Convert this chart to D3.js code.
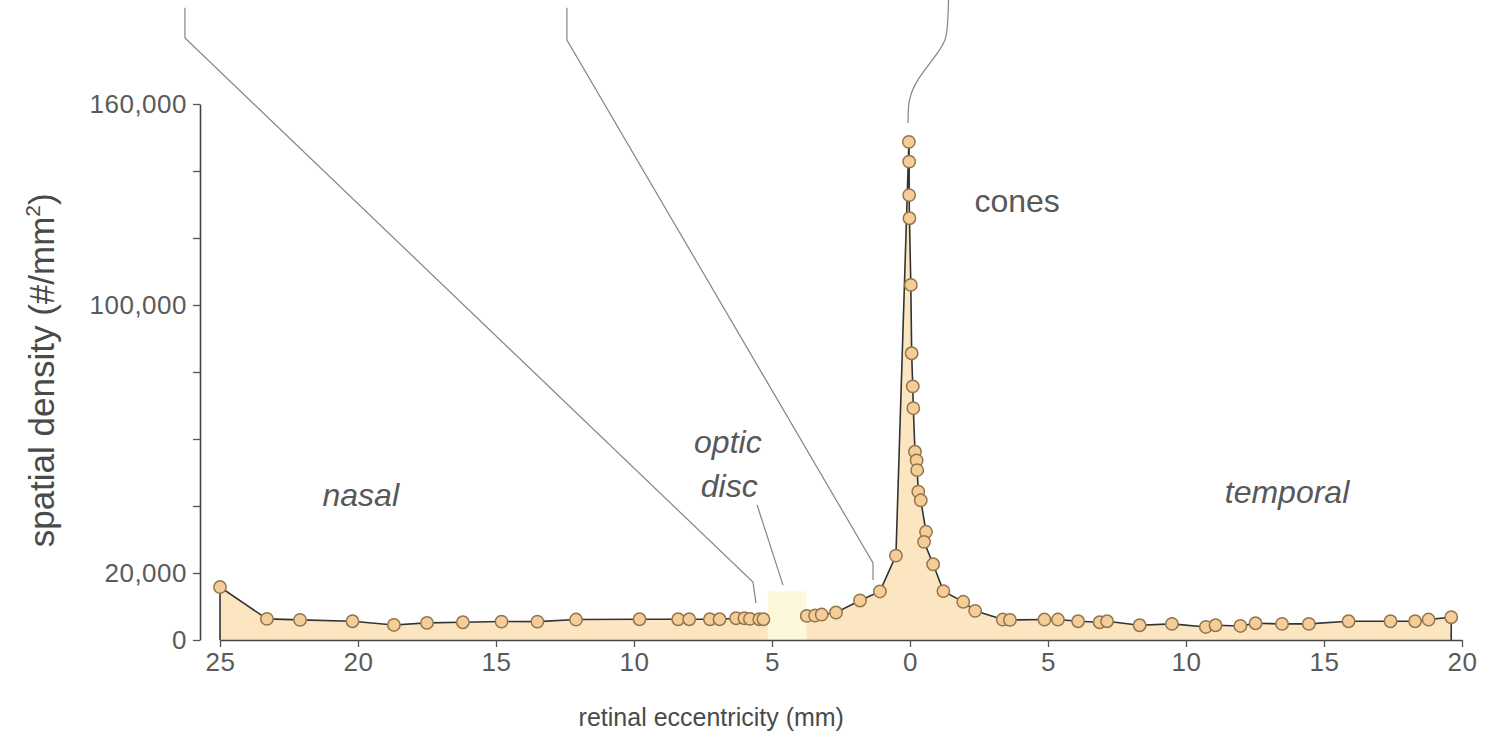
<!DOCTYPE html>
<html>
<head>
<meta charset="utf-8">
<script src="https://cdn.jsdelivr.net/npm/d3@7"></script>
<style>
  body { margin: 0; background: #fff; }
  svg { display: block; font-family: "Liberation Sans", Arial, Helvetica, sans-serif; }
</style>
</head>
<body>
<div id="chart"></div>
<script>
// eccentricity in mm, nasal side negative, temporal side positive
const eccentricity = [
  -25.0, -23.3, -22.1, -20.2, -18.7, -17.5, -16.2, -14.8, -13.5, -12.1,
  -9.8, -8.4, -8.0, -7.25, -6.9, -6.3, -6.0, -5.8, -5.46, -5.31,
  -3.74, -3.44, -3.2, -2.68, -1.81, -1.09, -0.51,
  -0.04, -0.03, -0.03, -0.02, 0.03, 0.06, 0.10, 0.12,
  0.18, 0.24, 0.26, 0.30, 0.39, 0.58, 0.51,
  0.84, 1.21, 1.93, 2.36, 3.36, 3.62,
  4.87, 5.36, 6.09, 6.87, 7.14, 8.32, 9.49, 10.72, 11.07, 11.97,
  12.52, 13.48, 14.45, 15.89, 17.41, 18.30, 18.79, 19.61
];
// cone density (#/mm2)
const coneDensity = [
  15800, 6300, 6000, 5600, 4500, 5100, 5300, 5500, 5500, 6100,
  6200, 6200, 6200, 6200, 6200, 6500, 6500, 6300, 6200, 6200,
  7200, 7300, 7600, 8200, 11800, 14500, 25200,
  148700, 142800, 132800, 125900, 106000, 85600, 75700, 69200,
  56200, 53600, 50700, 44300, 41700, 32300, 29300,
  22600, 14600, 11400, 8700, 6100, 6000,
  6100, 6100, 5600, 5300, 5600, 4400, 4800, 3900, 4400, 4200,
  5000, 4800, 4800, 5600, 5600, 5600, 6100, 6800
];
const opticDisc = [-5.15, -3.75];   // mm, nasal
const opticDiscDensity = 14500;

const xTicks = [-25, -20, -15, -10, -5, 0, 5, 10, 15, 20];
const yTicks = [0, 20000, 40000, 60000, 80000, 100000, 120000, 140000, 160000];
const yTickLabels = [0, 20000, 100000, 160000];

// leader lines up to the (cropped) retina drawing, in data units
const leaderNasal = [[-26.27, 188700], [-26.27, 179700], [-5.69, 17300], [-5.58, 11000]];
const leaderMid = [[-12.43, 188700], [-12.43, 179100], [-1.34, 23000], [-1.34, 17900]];
const leaderFovea = [[1.4, 192000], [1.36, 181000], [1.2, 177000], [0.2, 167000], [-0.07, 161000], [-0.07, 154300]];
const leaderDisc = [[-5.54, 40300], [-4.60, 16400]];

document.addEventListener("DOMContentLoaded", () => {
  const svg = d3.select("#chart").append("svg")
    .attr("width", 1496)
    .attr("height", 739);

  const x = d3.scaleLinear().domain([-25, 20]).range([220, 1462]);
  const y = d3.scaleLinear().domain([0, 160000]).range([640, 104]);

  const pts = eccentricity.map((e, i) => [e, coneDensity[i]]);

  const guide = d3.line().x(d => x(d[0])).y(d => y(d[1]));
  const guides = svg.append("g")
    .attr("fill", "none")
    .attr("stroke", "#858585")
    .attr("stroke-width", 1.2);
  [leaderNasal, leaderMid, leaderDisc].forEach(g => guides.append("path").attr("d", guide(g)));
  guides.append("path").attr("d", guide.curve(d3.curveBasis)(leaderFovea));

  // filled area under the curve
  const area = d3.area()
    .x(d => x(d[0]))
    .y0(y(0))
    .y1(d => y(d[1]));
  svg.append("path")
    .attr("d", area(pts))
    .attr("fill", "#fce6c1");

  // optic disc (no cones)
  svg.append("rect")
    .attr("x", x(opticDisc[0]))
    .attr("width", x(opticDisc[1]) - x(opticDisc[0]))
    .attr("y", y(opticDiscDensity))
    .attr("height", y(0) - y(opticDiscDensity))
    .attr("fill", "#fdf7dc");

  // curve, broken at the optic disc
  const nasalPart = [[eccentricity[0], 0]].concat(pts.filter(d => d[0] < opticDisc[0]));
  const tempPart = pts.filter(d => d[0] > opticDisc[1]);
  tempPart.push([tempPart[tempPart.length - 1][0], 0]);
  const line = d3.line().x(d => x(d[0])).y(d => y(d[1]));
  svg.append("g")
    .attr("fill", "none")
    .attr("stroke", "#333")
    .attr("stroke-width", 1.6)
    .selectAll("path")
    .data([nasalPart, tempPart])
    .join("path")
    .attr("d", line);

  svg.append("g")
    .selectAll("circle")
    .data(pts)
    .join("circle")
    .attr("cx", d => x(d[0]))
    .attr("cy", d => y(d[1]))
    .attr("r", 6.2)
    .attr("fill", "#f4cd98")
    .attr("stroke", "#94754a")
    .attr("stroke-width", 1.5);

  // axes
  const xAxis = svg.append("g")
    .attr("transform", `translate(0,${y(0)})`)
    .call(d3.axisBottom(x).tickValues(xTicks).tickFormat(d => Math.abs(d))
      .tickSize(7).tickSizeOuter(0).tickPadding(6));
  const yAxis = svg.append("g")
    .attr("transform", `translate(200,0)`)
    .call(d3.axisLeft(y).tickValues(yTicks)
      .tickFormat(d => yTickLabels.includes(d) ? d3.format(",")(d) : "")
      .tickSize(7).tickSizeOuter(0).tickPadding(6));
  [xAxis, yAxis].forEach(a => {
    a.select(".domain").attr("stroke", "#444").attr("stroke-width", 1.6);
    a.selectAll(".tick line").attr("stroke", "#555").attr("stroke-width", 1.3);
    a.selectAll("text").attr("font-size", 26).attr("fill", "#5a5a5a")
      .attr("letter-spacing", 0.5)
      .attr("font-family", "'Liberation Sans', Arial, sans-serif");
  });

  // axis titles
  svg.append("text")
    .attr("x", x(-7.2))
    .attr("y", 726)
    .attr("text-anchor", "middle")
    .attr("font-size", 25)
    .attr("fill", "#4a4a4a")
    .text("retinal eccentricity (mm)");

  const yl = svg.append("text")
    .attr("transform", `translate(54,${y(80500)}) rotate(-90)`)
    .attr("text-anchor", "middle")
    .attr("font-size", 35)
    .attr("fill", "#4a4a4a");
  yl.append("tspan").text("spatial density (#/mm");
  yl.append("tspan").attr("font-size", 21).attr("dy", -14).text("2");
  yl.append("tspan").attr("dy", 14).text(")");

  // region labels
  const labels = [
    {t: "nasal", e: -19.9, d: 40000, italic: true},
    {t: "optic", e: -6.6, d: 55800, italic: true},
    {t: "disc", e: -6.55, d: 42700, italic: true},
    {t: "temporal", e: 13.66, d: 40900, italic: true},
    {t: "cones", e: 3.88, d: 127800, italic: false}
  ];
  svg.append("g")
    .selectAll("text")
    .data(labels)
    .join("text")
    .attr("x", d => x(d.e))
    .attr("y", d => y(d.d))
    .attr("text-anchor", "middle")
    .attr("font-size", 32)
    .attr("font-style", d => d.italic ? "italic" : "normal")
    .attr("fill", "#585858")
    .text(d => d.t);
});
</script>
</body>
</html>
